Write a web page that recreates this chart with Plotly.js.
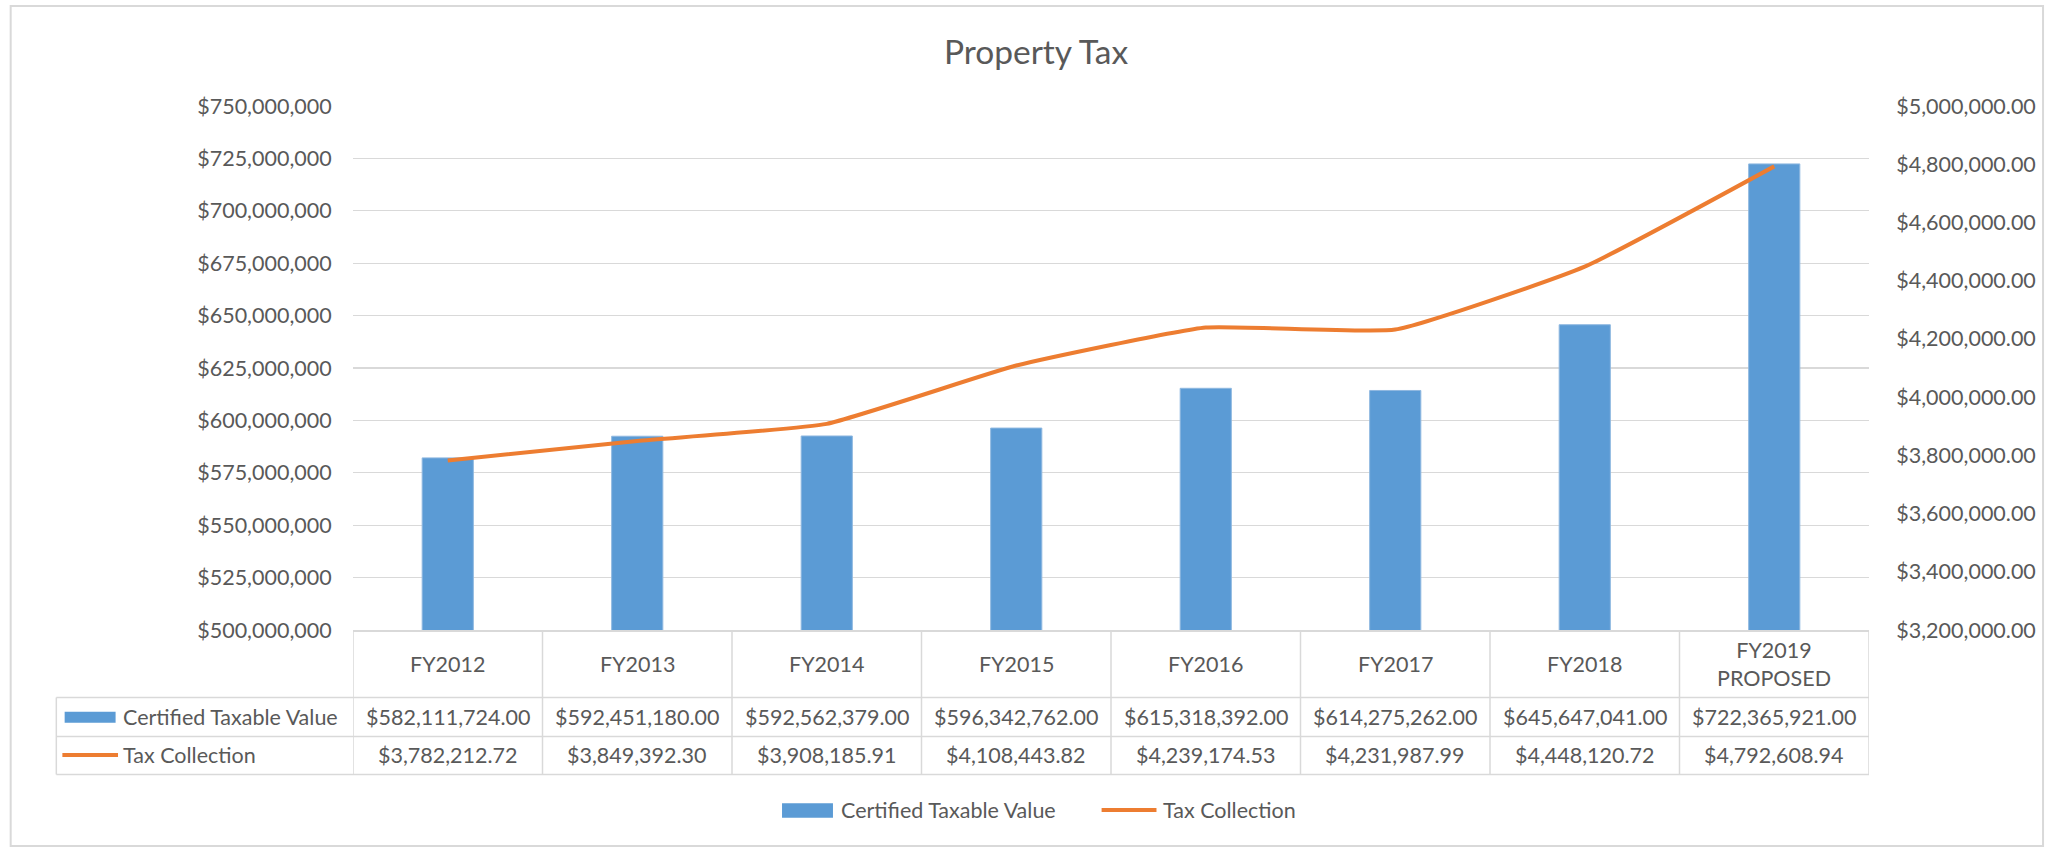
<!DOCTYPE html>
<html>
<head>
<meta charset="utf-8">
<script src="https://cdn.plot.ly/plotly-3.0.1.min.js"></script>
<style>
  html, body { margin: 0; padding: 0; background: #ffffff; }
  #chart { width: 2054px; height: 848px; }
</style>
</head>
<body>
<div id="chart"></div>
<script>
// ---- Data ----
const categories = ['FY2012', 'FY2013', 'FY2014', 'FY2015', 'FY2016', 'FY2017', 'FY2018', 'FY2019 PROPOSED'];
const headerLabels = ['FY2012', 'FY2013', 'FY2014', 'FY2015', 'FY2016', 'FY2017', 'FY2018', 'FY2019<br>PROPOSED'];
const seriesNames = ['Certified Taxable Value', 'Tax Collection'];
const taxableValue = [582111724.00, 592451180.00, 592562379.00, 596342762.00, 615318392.00, 614275262.00, 645647041.00, 722365921.00];
const taxCollection = [3782212.72, 3849392.30, 3908185.91, 4108443.82, 4239174.53, 4231987.99, 4448120.72, 4792608.94];
const leftRange = [500000000, 750000000];
const leftStep = 25000000;
const rightRange = [3200000, 5000000];
const rightStep = 200000;
const titleText = 'Property Tax';

// ---- Style ----
const FONT = 'Lato, "Open Sans", sans-serif';
const TXT = '#595959';
const GRID = '#d9d9d9';
const BLUE = '#5b9bd5';
const ORANGE = '#ed7d31';
const FS = 21.5;

const money2 = v => '$' + v.toLocaleString('en-US', {minimumFractionDigits: 2, maximumFractionDigits: 2});

// table geometry (paper coords)
const tblLeft = -0.1957;
const rowHeaderY = -0.0649, row1Y = -0.166, row2Y = -0.2395;
const lineH1 = -0.1288, lineH2 = -0.2032, lineH3 = -0.2758;
const legendY = -0.3435;

const traces = [
  {
    type: 'bar', name: seriesNames[0], x: categories, y: taxableValue,
    marker: {color: BLUE, line: {color: '#8fb8e0', width: 1}},
    width: 0.27, yaxis: 'y', showlegend: false, hoverinfo: 'x+y'
  },
  {
    type: 'scatter', mode: 'lines', name: seriesNames[1], x: categories, y: taxCollection,
    line: {color: ORANGE, width: 4, shape: 'spline', smoothing: 0.4},
    yaxis: 'y2', showlegend: false, hoverinfo: 'x+y'
  }
];

const shapes = [];
const annotations = [];

// table vertical lines at category boundaries
for (let i = 0; i <= categories.length; i++) {
  shapes.push({type: 'line', xref: 'x', yref: 'paper', x0: i - 0.5, x1: i - 0.5, y0: 0, y1: lineH3,
               line: {color: GRID, width: 1.5}});
}
// left edge of table (data rows only)
shapes.push({type: 'line', xref: 'paper', yref: 'paper', x0: tblLeft, x1: tblLeft, y0: lineH1, y1: lineH3,
             line: {color: GRID, width: 1.5}});
// horizontal lines
[lineH1, lineH2, lineH3].forEach(yy => {
  shapes.push({type: 'line', xref: 'paper', yref: 'paper', x0: tblLeft, x1: 1, y0: yy, y1: yy,
               line: {color: GRID, width: 1.5}});
});
// legend keys inside table
shapes.push({type: 'rect', xref: 'paper', yref: 'paper', x0: -0.1902, x1: -0.1566, y0: -0.1559, y1: -0.1769,
             fillcolor: BLUE, line: {width: 0}});
shapes.push({type: 'line', xref: 'paper', yref: 'paper', x0: -0.1917, x1: -0.1550, y0: row2Y + 0.001, y1: row2Y + 0.001,
             line: {color: ORANGE, width: 4}});
// bottom legend keys
shapes.push({type: 'rect', xref: 'paper', yref: 'paper', x0: 0.2830, x1: 0.3166, y0: -0.3307, y1: -0.3582,
             fillcolor: BLUE, line: {width: 0}});
shapes.push({type: 'line', xref: 'paper', yref: 'paper', x0: 0.4938, x1: 0.5300, y0: legendY, y1: legendY,
             line: {color: ORANGE, width: 4}});
// chart border
shapes.push({type: 'rect', xref: 'paper', yref: 'paper', x0: -0.2258, x1: 1.1148, y0: -0.4122, y1: 1.1908,
             line: {color: GRID, width: 2}, fillcolor: 'rgba(0,0,0,0)', layer: 'below'});

const f = {family: FONT, size: FS, color: TXT};

// header row and data rows
categories.forEach((c, i) => {
  annotations.push({xref: 'x', yref: 'paper', x: c, y: rowHeaderY, text: headerLabels[i], showarrow: false,
                    xanchor: 'center', yanchor: 'middle', font: f});
  annotations.push({xref: 'x', yref: 'paper', x: c, y: row1Y, text: money2(taxableValue[i]), showarrow: false,
                    xanchor: 'center', yanchor: 'middle', font: f});
  annotations.push({xref: 'x', yref: 'paper', x: c, y: row2Y, text: money2(taxCollection[i]), showarrow: false,
                    xanchor: 'center', yanchor: 'middle', font: f});
});
// series names in table
annotations.push({xref: 'paper', yref: 'paper', x: -0.1528, y: row1Y, text: seriesNames[0], showarrow: false,
                  xanchor: 'left', yanchor: 'middle', font: f});
annotations.push({xref: 'paper', yref: 'paper', x: -0.1528, y: row2Y, text: seriesNames[1], showarrow: false,
                  xanchor: 'left', yanchor: 'middle', font: f});
// bottom legend texts
annotations.push({xref: 'paper', yref: 'paper', x: 0.3206, y: legendY, text: seriesNames[0], showarrow: false,
                  xanchor: 'left', yanchor: 'middle', font: f});
annotations.push({xref: 'paper', yref: 'paper', x: 0.5333, y: legendY, text: seriesNames[1], showarrow: false,
                  xanchor: 'left', yanchor: 'middle', font: f});

const layout = {
  width: 2054, height: 848,
  paper_bgcolor: '#ffffff', plot_bgcolor: '#ffffff',
  margin: {l: 353, r: 185, t: 106, b: 218, pad: 0},
  font: {family: FONT, size: FS, color: TXT},
  title: {text: titleText, font: {family: FONT, size: 33.5, color: TXT},
          xref: 'container', x: 0.5044, xanchor: 'center', yref: 'container', y: 0.9387, yanchor: 'middle'},
  showlegend: false,
  bargap: 0,
  xaxis: {
    type: 'category', range: [-0.5, categories.length - 0.5],
    showticklabels: false, ticks: '', showgrid: false, zeroline: false,
    showline: true, linecolor: GRID, linewidth: 1.5, fixedrange: true
  },
  yaxis: {
    range: leftRange, dtick: leftStep, tick0: leftRange[0], tickformat: '$,.0f',
    showgrid: true, gridcolor: GRID, gridwidth: 1.3, zeroline: false, showline: false,
    ticks: 'outside', ticklen: 16, tickcolor: 'rgba(0,0,0,0)',
    tickfont: {family: FONT, size: FS, color: TXT}, fixedrange: true
  },
  yaxis2: {
    range: rightRange, dtick: rightStep, tick0: rightRange[0], tickformat: '$,.2f',
    overlaying: 'y', side: 'right', showgrid: false, zeroline: false, showline: false,
    ticks: 'outside', ticklen: 22, tickcolor: 'rgba(0,0,0,0)',
    tickfont: {family: FONT, size: FS, color: TXT}, fixedrange: true
  },
  shapes: shapes,
  annotations: annotations
};

Plotly.newPlot('chart', traces, layout, {displayModeBar: false, staticPlot: true});
</script>
</body>
</html>
